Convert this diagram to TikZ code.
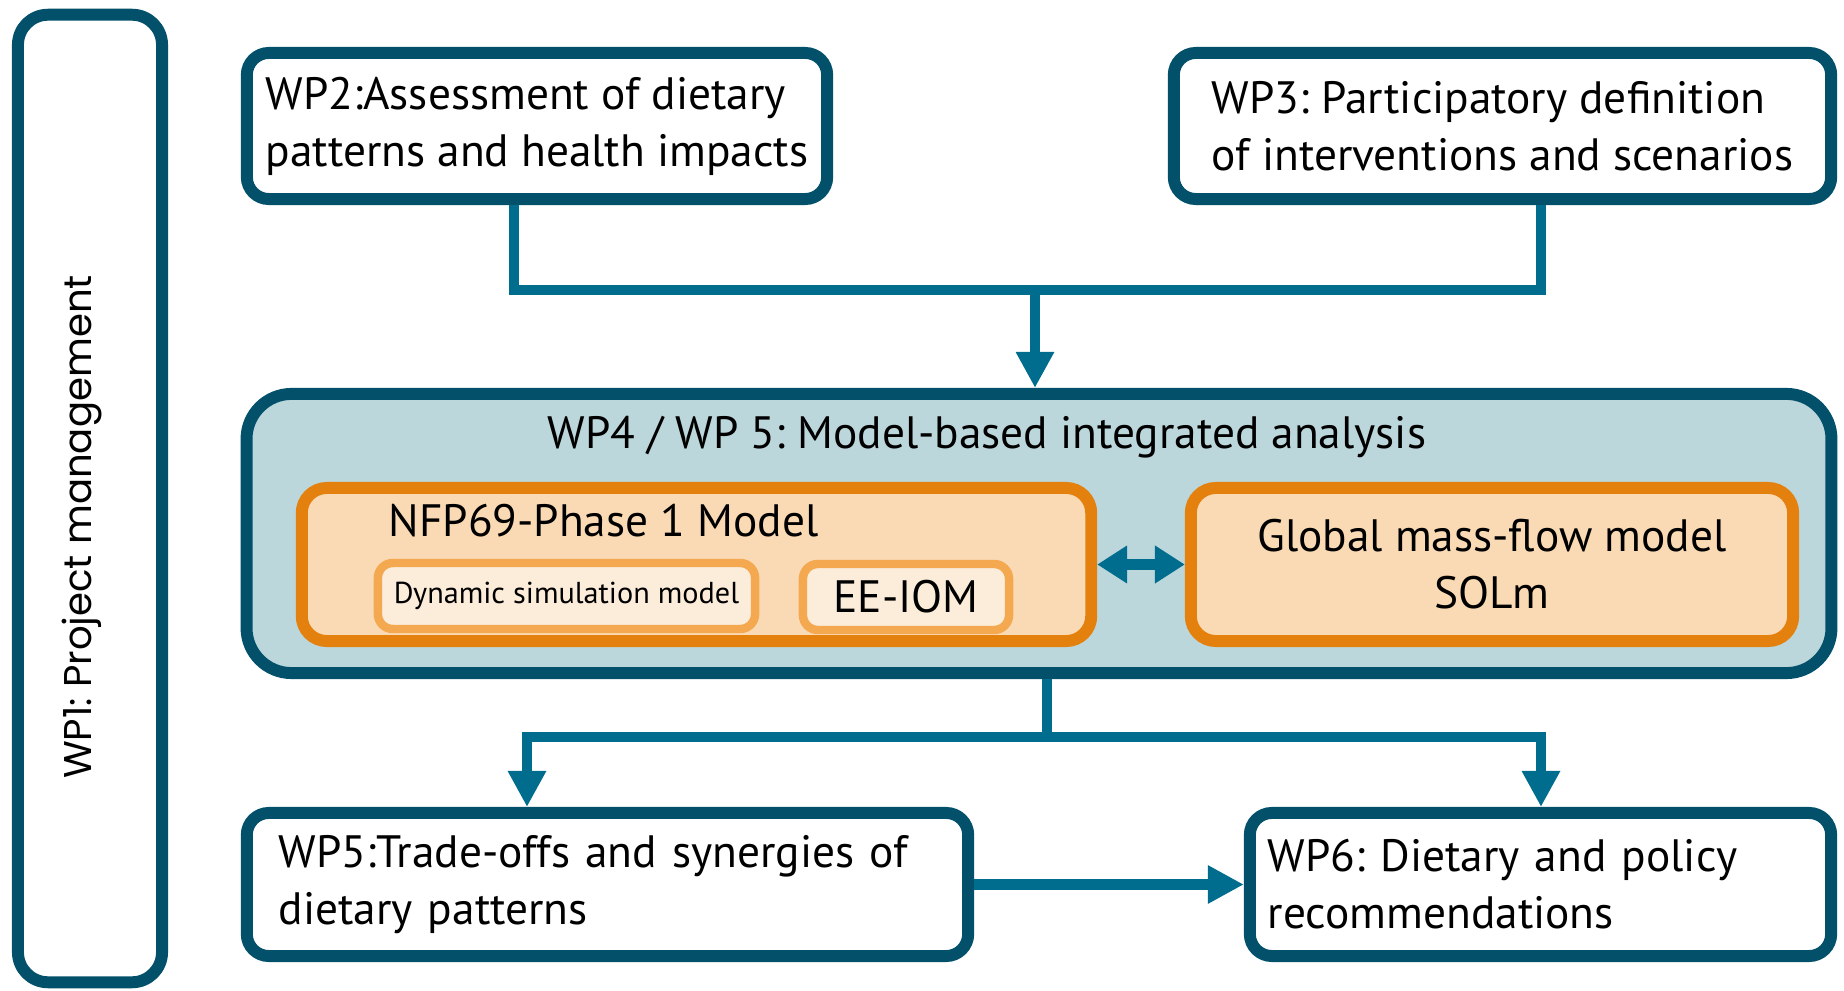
\documentclass[tikz,border=0pt]{standalone}
\usepackage{fontspec}
\setmainfont{PT Sans}
\newfontfamily\wpfont{Poppins}
\usetikzlibrary{positioning,arrows.meta}
\frenchspacing

\definecolor{wpdark}{RGB}{3,80,106}
\definecolor{wplink}{RGB}{0,109,143}
\definecolor{wpfill}{RGB}{188,215,219}
\definecolor{nfporange}{RGB}{228,128,14}
\definecolor{nfpfill}{RGB}{250,218,180}
\definecolor{subedge}{RGB}{244,168,79}
\definecolor{subfill}{RGB}{252,236,218}

\newcommand{\wptext}{\fontsize{12.9}{16.2}\selectfont}
\newcommand{\subtext}{\fontsize{8.6}{10}\selectfont}

\begin{document}
\begin{tikzpicture}[x=0.01cm, y=-0.01cm,
    wpbox/.style={draw=wpdark, line width=3.4pt, fill=white, rounded corners=0.22cm,
        inner sep=0.1cm, align=left, font=\wptext},
    modelbox/.style={draw=nfporange, line width=3.4pt, fill=nfpfill, rounded corners=0.25cm,
        inner sep=0.1cm, align=center, font=\wptext},
    subbox/.style={draw=subedge, line width=2.4pt, fill=subfill, rounded corners=0.15cm,
        inner sep=0.05cm},
    link/.style={draw=wplink, line width=2.9pt},
    tip/.style={-{Triangle[length=0.36cm, width=0.36cm]}}]
    \useasboundingbox (0,0) rectangle (1844,991);

    % Project management frame
    \node[wpbox, rounded corners=0.3cm, minimum width=1.44cm, minimum height=9.67cm] (wp1) at (90,498.5) {};
    \node[rotate=90, font=\wpfont\fontsize{11}{13}\selectfont] (wp1txt) at (82,527) {WP1: Project management};

    % Upper work packages
    \node[wpbox, minimum width=5.80cm, minimum height=1.46cm] (wp2) at (537,126)
        {WP2:Assessment of dietary\\patterns and health impacts};
    \node[wpbox, minimum width=6.57cm, minimum height=1.46cm] (wp3) at (1502.5,126)
        {WP3: Participatory definition\\of interventions and scenarios};

    % Integrated analysis block
    \node[draw=wpdark, line width=3.4pt, fill=wpfill, rounded corners=0.45cm,
        minimum width=15.84cm, minimum height=2.79cm] (model) at (1039,533.5) {};
    \node[font=\wptext] (modeltitle) at (987,437) {WP4 / WP 5: Model-based integrated analysis};

    \node[modelbox, minimum width=7.89cm, minimum height=1.53cm] (nfp) at (696.5,564.5) {};
    \node[font=\wptext, anchor=base west, inner sep=0pt] (nfptitle) at (388,537) {NFP69-Phase 1 Model};
    \node[subbox, minimum width=3.77cm, minimum height=0.66cm, font=\subtext] (dyn) at (566.5,596)
        {Dynamic simulation model};
    \node[subbox, minimum width=2.06cm, minimum height=0.66cm, font=\wptext] (eeiom) at (906,597)
        {EE-IOM};
    \node[modelbox, minimum width=6.02cm, minimum height=1.53cm] (solm) at (1492,564.5)
        {Global mass-flow model\\SOLm};
    \draw[draw=wplink, line width=3.4pt,
        {Triangle[length=0.3cm, width=0.36cm]}-{Triangle[length=0.3cm, width=0.36cm]}] (nfp) -- (solm);

    % Lower work packages
    \node[wpbox, minimum width=7.21cm, minimum height=1.43cm, text width=6.57cm] (wp5) at (607.5,884.5)
        {WP5:Trade-offs and synergies of\\dietary patterns};
    \node[wpbox, minimum width=5.81cm, minimum height=1.43cm, text width=5.45cm] (wp6) at (1540.5,884.5)
        {WP6: Dietary and policy\\recommendations};

    % Connectors
    \coordinate (c2) at (514,0);
    \coordinate (c3) at (1541,0);
    \coordinate (c5) at (527,0);
    \coordinate (merge) at (1035,290);
    \coordinate (split) at (1047,737);

    \draw[link] (wp2.south -| c2) |- (merge) -| (wp3.south -| c3);
    \draw[link, tip] (merge) -- (model.north -| merge);
    \draw[link] (model.south -| split) -- (split);
    \draw[link, tip] (split) -| (wp5.north -| c5);
    \draw[link, tip] (split) -| (wp6.north -| c3);
    \draw[link, tip] (wp5) -- (wp6);
\end{tikzpicture}
\end{document}
